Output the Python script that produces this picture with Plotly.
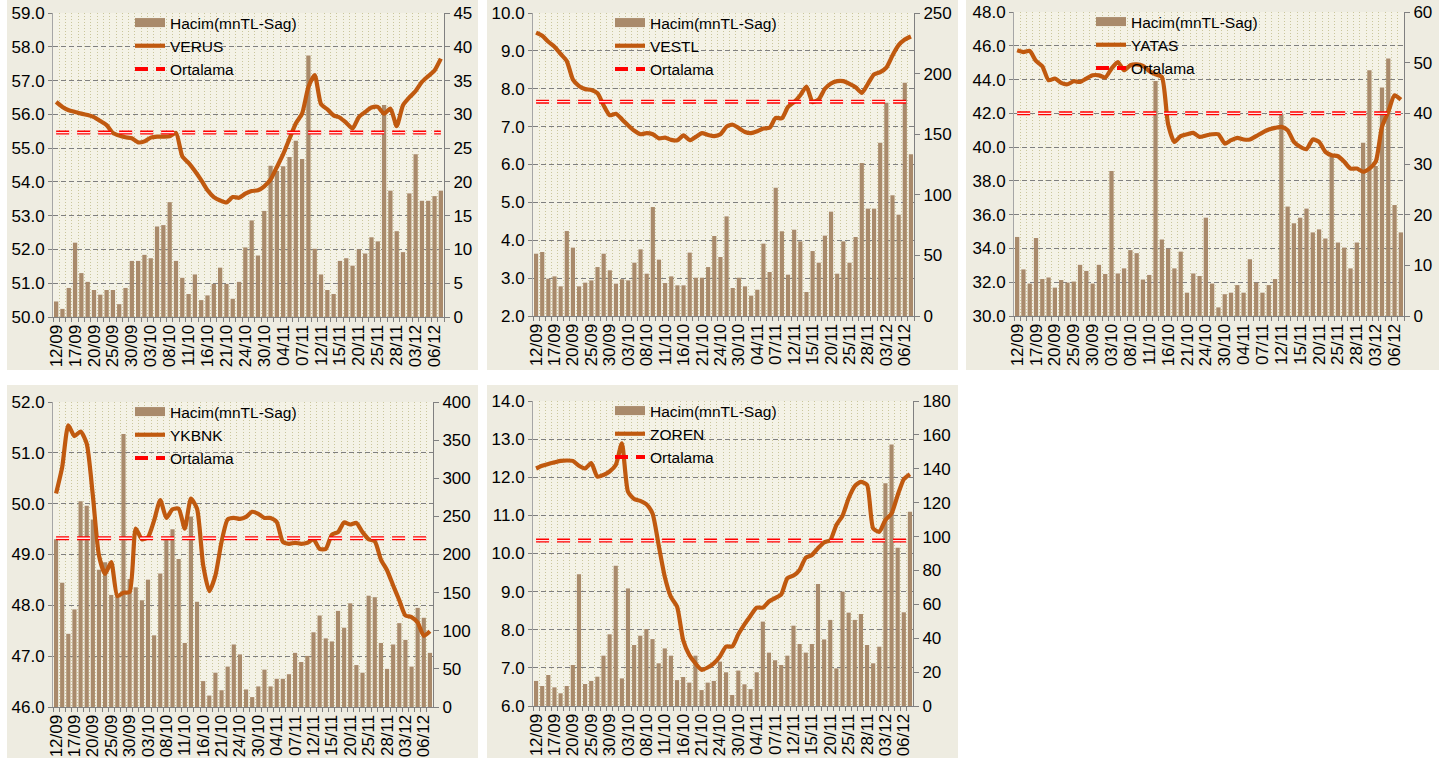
import plotly.graph_objects as go

# ---------------- data ----------------
dates = ["12/09","13/09","16/09","17/09","18/09","19/09","20/09","23/09","24/09","25/09","26/09","27/09","30/09",
         "01/10","02/10","03/10","04/10","07/10","08/10","09/10","10/10","11/10","14/10","15/10","16/10","17/10",
         "18/10","21/10","22/10","23/10","24/10","25/10","28/10","30/10","31/10",
         "01/11","04/11","05/11","06/11","07/11","08/11","11/11","12/11","13/11","14/11","15/11","18/11","19/11",
         "20/11","21/11","22/11","25/11","26/11","27/11","28/11","29/11",
         "02/12","03/12","04/12","05/12","06/12","09/12"]
tick_labels = [d if i % 3 == 0 else "" for i, d in enumerate(dates)]

verus_price = [56.37,56.22,56.12,56.07,56.02,55.98,55.92,55.80,55.68,55.45,
               55.37,55.32,55.29,55.17,55.20,55.31,55.34,55.34,55.35,55.45,
               54.76,54.56,54.32,54.05,53.75,53.55,53.45,53.39,53.55,53.53,
               53.65,53.73,53.75,53.87,54.07,54.44,54.82,55.28,55.73,56.02,
               56.81,57.16,56.30,56.15,55.97,55.90,55.75,55.58,55.92,56.07,
               56.20,56.22,56.02,56.17,55.65,56.27,56.50,56.69,56.96,57.13,
               57.30,57.65]
verus_vol = [2.3,1.2,4.3,11.0,6.5,5.2,4.0,3.3,4.0,4.0,
             1.9,4.3,8.3,8.3,9.2,8.7,13.4,13.6,17.0,8.3,
             5.8,3.4,6.3,2.5,3.2,4.9,7.3,4.9,2.7,5.2,
             10.3,14.3,9.1,15.7,22.4,21.6,22.3,23.7,26.1,23.4,
             38.7,10.1,6.3,4.0,3.4,8.3,8.7,7.6,10.0,9.4,
             11.8,11.2,31.4,18.7,12.7,9.6,18.3,24.1,17.2,17.2,
             17.9,18.7]
verus_mean = 55.46

vestl_price = [9.48,9.40,9.24,9.11,8.92,8.73,8.24,8.07,7.99,7.97,
               7.88,7.56,7.30,7.34,7.19,7.03,6.89,6.80,6.83,6.80,
               6.69,6.71,6.65,6.64,6.77,6.64,6.73,6.83,6.78,6.75,
               6.80,7.00,7.05,6.96,6.86,6.83,6.88,6.95,6.97,7.23,
               7.22,7.52,7.65,7.83,8.06,7.65,7.72,8.00,8.14,8.20,
               8.20,8.13,8.04,7.89,8.13,8.38,8.44,8.56,8.88,9.15,
               9.30,9.38]
vestl_vol = [51.4,52.8,30.8,32.7,24.5,70.1,56.4,24.5,27.5,29.4,
             40.4,51.4,37.7,26.7,30.3,29.4,44.0,55.0,34.9,89.9,
             46.5,27.2,32.7,25.3,25.3,52.3,31.6,31.6,40.4,66.0,
             48.7,82.2,23.1,31.6,24.5,16.8,21.7,59.7,36.3,105.9,
             69.9,34.1,71.2,61.6,19.8,53.6,44.0,66.3,86.1,34.9,
             61.6,44.0,65.2,126.2,88.6,88.6,143.0,176.0,99.6,83.6,
             192.5,133.4]
vestl_mean = 7.66

yatas_price = [45.73,45.63,45.69,45.10,44.79,43.96,44.06,43.80,43.72,43.90,
               43.86,44.06,44.25,44.25,44.12,44.65,45.04,44.55,44.85,44.90,
               44.81,44.51,44.31,44.16,41.35,40.31,40.65,40.76,40.84,40.61,
               40.69,40.76,40.76,40.21,40.41,40.55,40.45,40.45,40.65,40.86,
               41.04,41.14,41.20,41.00,40.31,40.02,39.88,40.45,40.31,39.72,
               39.52,39.46,39.13,38.73,38.73,38.54,38.73,39.13,41.20,42.09,
               43.07,42.81]
yatas_vol = [15.6,9.2,6.4,15.4,7.3,7.6,5.6,7.1,6.6,6.8,
             10.1,8.9,6.4,10.1,8.3,28.6,8.4,9.4,13.0,12.4,
             7.2,8.1,46.4,15.1,13.3,9.4,12.7,4.6,8.4,7.9,
             19.4,6.4,1.7,4.3,4.6,6.1,4.6,11.2,6.6,4.6,
             6.1,7.3,39.8,21.6,18.3,19.4,21.2,16.5,17.1,15.3,
             31.5,14.5,13.5,9.4,14.5,34.2,48.5,29.6,45.1,50.8,
             21.9,16.5]
yatas_mean = 42.0

ykbnk_price = [50.20,50.72,51.54,51.33,51.42,51.18,50.16,48.98,48.62,48.85,
               48.18,48.25,48.26,49.51,49.30,49.34,49.67,50.07,49.72,49.89,
               49.90,49.51,50.10,49.90,48.79,48.28,48.59,49.25,49.69,49.72,
               49.70,49.74,49.84,49.80,49.72,49.72,49.64,49.25,49.21,49.23,
               49.21,49.23,49.30,49.11,49.11,49.39,49.44,49.63,49.59,49.62,
               49.44,49.30,49.26,48.90,48.69,48.39,48.10,47.80,47.77,47.66,
               47.40,47.49]
ykbnk_vol = [220,163,96,128,270,264,246,180,190,147,
             147,358,168,157,140,167,94,175,220,233,
             194,84,250,138,34,15,45,22,53,82,
             69,23,13,27,49,27,37,37,43,71,
             59,67,98,120,90,86,126,104,136,55,
             45,146,144,84,50,82,110,88,53,130,
             117,71]
ykbnk_mean = 49.32

zoren_price = [12.23,12.30,12.35,12.39,12.43,12.44,12.43,12.30,12.23,12.37,
               12.02,12.06,12.15,12.32,12.89,11.62,11.43,11.38,11.29,11.05,
               10.22,9.39,8.86,8.61,7.73,7.34,7.12,6.95,7.01,7.12,
               7.30,7.56,7.56,7.88,8.14,8.37,8.58,8.58,8.74,8.83,
               8.93,9.35,9.42,9.57,9.89,9.96,10.14,10.29,10.35,10.75,
               10.99,11.45,11.77,11.88,11.80,10.66,10.57,10.88,11.05,11.53,
               11.95,12.08]
zoren_vol = [14.8,11.8,18.3,11.0,7.5,11.8,24.2,77.7,13.0,14.8,
             17.3,29.7,42.3,82.8,16.3,69.4,36.0,41.5,45.4,39.5,
             25.2,34.0,29.7,15.3,17.1,13.8,29.7,9.4,13.8,14.8,
             26.2,19.9,6.5,20.9,12.8,10.0,19.9,49.8,31.5,27.0,
             24.2,29.7,47.4,36.6,31.5,36.6,72.0,39.3,50.8,22.2,
             67.5,55.1,50.8,54.3,36.0,25.2,35.0,131.4,154.4,93.4,
             55.3,114.7]
zoren_mean = 10.34

vol_name = "Hacim(mnTL-Sag)"
mean_name = "Ortalama"

# ---------------- layout config ----------------
W, H = 1450, 760
FONT = "Liberation Sans, Arial, sans-serif"
BAR_C = "#A98A6B"
LINE_C = "#C0590F"
PANEL_C = "#EEECE1"
PLOT_C = "#F4F2E6"

def px_x(v):
    return v / W

def px_y(v):
    return 1 - v / H

panels = [
    dict(name="VERUS", price=verus_price, vol=verus_vol, mean=verus_mean,
         yl=(50, 59, 1), yr=(0, 45, 5), box=(53, 444, 13, 317), panel=(7, 478, 0, 370)),
    dict(name="VESTL", price=vestl_price, vol=vestl_vol, mean=vestl_mean,
         yl=(2, 10, 1), yr=(0, 250, 50), box=(533, 914, 13, 316), panel=(487, 958, 0, 370)),
    dict(name="YATAS", price=yatas_price, vol=yatas_vol, mean=yatas_mean,
         yl=(30, 48, 2), yr=(0, 60, 10), box=(1014, 1404, 12, 316), panel=(966, 1439, 0, 370)),
    dict(name="YKBNK", price=ykbnk_price, vol=ykbnk_vol, mean=ykbnk_mean,
         yl=(46, 52, 1), yr=(0, 400, 50), box=(53, 433, 402, 707), panel=(7, 478, 385, 758)),
    dict(name="ZOREN", price=zoren_price, vol=zoren_vol, mean=zoren_mean,
         yl=(6, 14, 1), yr=(0, 180, 20), box=(533, 913, 401, 706), panel=(487, 958, 385, 758)),
]

fig = go.Figure()
layout = dict(
    width=W, height=H, margin=dict(l=0, r=0, t=0, b=0, autoexpand=False),
    paper_bgcolor="white", plot_bgcolor=PLOT_C,
    font=dict(family=FONT, size=16, color="black"),
    barmode="overlay", bargap=0.32, showlegend=True,
)
shapes = []

for k, p in enumerate(panels, start=1):
    xa = "x" if k == 1 else f"x{k}"
    yb = f"y{2*k-1}" if k > 1 else "y"
    yo = f"y{2*k}"
    xkey = "xaxis" if k == 1 else f"xaxis{k}"
    ybkey = "yaxis" if k == 1 else f"yaxis{2*k-1}"
    yokey = f"yaxis{2*k}"
    lg = "legend" if k == 1 else f"legend{k}"

    x0, x1, y0, y1 = p["box"]
    px0, px1, py0, py1 = p["panel"]

    shapes.append(dict(type="rect", xref="paper", yref="paper", layer="below",
                       x0=px_x(px0), x1=px_x(px1), y0=px_y(py1), y1=px_y(py0),
                       fillcolor=PANEL_C, line=dict(width=0)))
    shapes.append(dict(type="rect", xref=f"{xa} domain", yref=f"{yb} domain", layer="below",
                       x0=0, x1=1, y0=0, y1=1, fillcolor=PLOT_C, line=dict(width=0)))

    # bars (base axis, right side)
    fig.add_trace(go.Bar(x=dates, y=p["vol"], xaxis=xa, yaxis=yb, marker=dict(color=BAR_C, line=dict(width=0)),
                         name=vol_name, showlegend=False, legendgroup=f"v{k}", legend=lg))
    # legend entry for the volume
    fig.add_trace(go.Scatter(x=[None], y=[None], xaxis=xa, yaxis=yo, mode="lines",
                             line=dict(color=BAR_C, width=9), name=vol_name,
                             legendgroup=f"v{k}", legend=lg))
    # price line
    fig.add_trace(go.Scatter(x=dates, y=p["price"], xaxis=xa, yaxis=yo, mode="lines",
                             line=dict(color=LINE_C, width=4.2, shape="spline", smoothing=0.6),
                             name=p["name"], legend=lg))
    # average line
    mean_series = [p["mean"] for _ in dates]
    fig.add_trace(go.Scatter(x=dates, y=mean_series, xaxis=xa, yaxis=yo, mode="lines",
                             line=dict(color="#FF0000", width=4, dash="13px,8px"),
                             name=mean_name, legend=lg, legendgroup=f"m{k}"))
    fig.add_trace(go.Scatter(x=dates, y=mean_series, xaxis=xa, yaxis=yo, mode="lines",
                             line=dict(color="#FFE8E8", width=1.3, dash="13px,8px"),
                             name=mean_name, showlegend=False, legend=lg, legendgroup=f"m{k}",
                             hoverinfo="skip"))

    layout[xkey] = dict(
        domain=[px_x(x0), px_x(x1)], anchor=yb, type="category",
        categoryorder="array", categoryarray=dates, range=[-0.5, len(dates) - 0.5],
        tickmode="array", tickvals=dates, ticktext=tick_labels, tickangle=-90,
        tickson="boundaries", ticks="outside", ticklen=4, tickcolor="#808080",
        showline=True, linecolor="#808080", linewidth=1,
        showgrid=True, gridcolor="#CAC69C", griddash="1px,2px", gridwidth=1,
        tickfont=dict(size=17, family=FONT, color="black"), fixedrange=True,
    )
    lo, hi, dt = p["yr"]
    layout[ybkey] = dict(
        domain=[px_y(y1), px_y(y0)], anchor=xa, side="right",
        range=[lo, hi], tick0=lo, dtick=dt, showgrid=False, zeroline=False,
        showline=True, linecolor="#808080", linewidth=1, ticks="outside", ticklen=5,
        tickcolor="#808080", tickfont=dict(size=17, family=FONT, color="black"), fixedrange=True,
    )
    lo, hi, dt = p["yl"]
    layout[yokey] = dict(
        overlaying=yb, anchor=xa, side="left",
        range=[lo, hi], tick0=lo, dtick=dt, tickformat=".1f",
        showgrid=True, gridcolor="#7F7F7F", griddash="5px,3px", gridwidth=1, zeroline=False,
        showline=True, linecolor="#A6A6A6", linewidth=1, ticks="outside", ticklen=4,
        tickcolor="#808080", tickfont=dict(size=17, family=FONT, color="black"), fixedrange=True,
    )
    layout[lg] = dict(
        x=px_x(x0 + 77), y=px_y(y0 - 7), xanchor="left", yanchor="top",
        bgcolor="rgba(0,0,0,0)", borderwidth=0, font=dict(size=15.5, family=FONT, color="black"),
        traceorder="normal", tracegroupgap=0, itemwidth=30,
    )

layout["shapes"] = shapes
fig.update_layout(**layout)
fig.write_html("out.html", config={"displayModeBar": False},
               post_script="document.body.style.margin='0';document.body.style.overflow='hidden';")
